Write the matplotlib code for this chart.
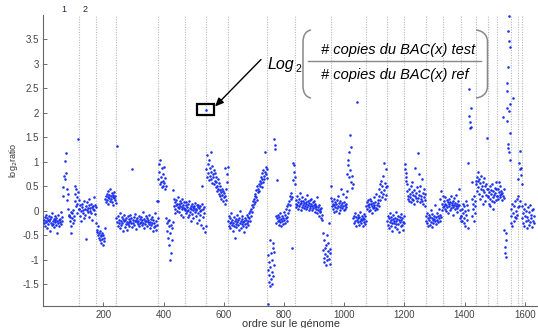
import numpy as np
import matplotlib
matplotlib.use("Agg")
import matplotlib.pyplot as plt
from matplotlib.path import Path
from matplotlib.patches import PathPatch, Rectangle

plt.rcParams['font.family'] = ['Liberation Sans', 'DejaVu Sans']
plt.rcParams['axes.unicode_minus'] = False

# chromosome boundaries (order on genome)
chrom_bounds = [120, 177, 242, 381, 471, 542, 614, 745, 838, 955, 1073, 1143,
                1200, 1271, 1330, 1389, 1438, 1477, 1508, 1555, 1577, 1590]
chrom_labels = ["1", "2"]
chrom_label_pos = [69, 139]

# runs of consecutive BACs: (first order, last order)
run_spans = [
    (1, 64), (65, 86), (86, 104), (104, 120), (120, 177), (177, 206), (206, 242),
    (242, 381), (381, 408), (408, 433), (433, 471), (471, 536), (537, 542),
    (542, 614), (614, 683), (683, 745), (745, 768), (768, 772), (772, 828),
    (828, 838), (838, 928), (928, 955), (955, 1010), (1010, 1030), (1030, 1073),
    (1073, 1115), (1115, 1143), (1143, 1200), (1200, 1271), (1271, 1330),
    (1330, 1389), (1389, 1412), (1412, 1424), (1424, 1438), (1438, 1477),
    (1477, 1508), (1508, 1532), (1532, 1540), (1540, 1552), (1552, 1577),
    (1577, 1590), (1590, 1632),
]

# log2 ratios, run by run
run_values = [
    [-0.18,-0.25,-0.12,-0.30,-0.20,-0.08,-0.22,-0.15,-0.35,-0.19,-0.27,-0.10,-0.21,-0.16,-0.40,-0.24,-0.13,-0.29,-0.05,-0.20,
     -0.26,-0.17,-0.33,-0.11,-0.23,-0.19,-0.28,-0.14,-0.45,-0.21,-0.09,-0.25,-0.18,-0.31,-0.16,-0.22,-0.02,-0.27,-0.20,-0.12],
    [0.30,0.48,0.72,1.02,0.65,0.78,1.18,0.45,0.22,0.35,0.05,-0.10],
    [-0.08,-0.20,-0.12,-0.30,-0.02,-0.45,-0.15,-0.05,-0.25,0.02,-0.10,-0.18],
    [0.20,0.50,0.35,0.45,0.10,0.28,0.15,-0.05,1.46,0.38,0.05,0.22],
    [0.05,-0.10,0.12,0.00,-0.20,0.08,0.15,-0.05,0.02,-0.15,0.20,0.05,-0.08,0.10,-0.57,0.03,0.18,-0.02,0.07,-0.12,
     0.12,0.25,0.00,0.06,-0.05,0.15,0.09,-0.18,0.04,0.11,0.28,0.01,-0.06,0.13,0.08,-0.25],
    [-0.38,-0.42,-0.30,-0.50,-0.45,-0.55,-0.40,-0.60,-0.48,-0.52,-0.65,-0.44,-0.58,-0.70,-0.50,-0.62,-0.55,-0.35],
    [0.25,0.30,0.18,0.35,0.22,0.40,0.28,0.15,0.32,0.26,0.45,0.20,0.30,0.24,0.36,0.19,0.29,0.33,0.12,0.27,0.38,0.22,0.31,0.17],
    [-0.15,1.33,-0.22,-0.30,-0.10,-0.25,-0.18,-0.35,-0.05,-0.20,-0.28,-0.12,-0.24,-0.40,-0.16,-0.21,-0.08,-0.32,-0.19,-0.26,
     -0.14,-0.23,-0.38,-0.11,-0.27,-0.17,-0.22,-0.30,-0.09,-0.20,-0.25,-0.15,-0.33,0.85,-0.18,-0.24,-0.12,-0.28,-0.21,-0.06,
     -0.19,-0.36,-0.23,-0.14,-0.27,-0.20,-0.10,-0.31,-0.17,-0.25,-0.22,-0.13,-0.29,-0.18,-0.02,-0.24,-0.34,-0.16,-0.21,-0.27,
     -0.11,-0.20,-0.30,-0.15,-0.23,-0.19,-0.26,-0.08,-0.35,-0.22,-0.17,-0.28,-0.13,-0.24,-0.40,-0.18,-0.32,-0.25,-0.05,-0.30,
     -0.20,-0.38,-0.28,0.21,-0.15],
    [0.20,0.65,0.95,0.80,1.05,0.55,0.70,0.60,0.88,0.48,0.75,0.62,0.52,0.90,0.58,0.45,0.68,0.50],
    [-0.15,-0.25,-0.40,-0.20,-0.55,-0.30,-0.70,-0.18,-1.00,-0.45,-0.28,-0.85,-0.60,-0.35,-0.22,0.43],
    [0.10,0.25,0.05,0.18,-0.05,0.12,0.22,0.00,0.15,0.08,0.29,-0.02,0.14,0.06,0.20,0.11,-0.08,0.17,0.04,0.24,0.09,0.13,-0.12,0.19,0.07,0.02],
    [0.05,0.12,-0.05,0.18,0.00,0.08,-0.12,0.15,0.03,-0.08,0.20,0.06,-0.02,0.10,-0.20,0.04,0.14,-0.06,0.09,0.01,-0.15,0.11,0.07,-0.03,
     0.16,-0.10,0.05,0.02,-0.25,0.12,0.08,-0.04,0.13,-0.18,0.06,0.00,0.10,-0.08,0.03,-0.28,0.15,0.52,-0.12,0.04,-0.35,-0.05,0.09],
    [-0.43,2.07,-0.30],
    [0.85,1.14,0.70,0.95,0.78,0.63,1.05,0.88,0.72,1.21,0.66,0.80,0.92,0.58,0.75,0.69,0.84,0.55,0.62,0.77,0.48,0.70,0.60,0.52,
     0.40,0.65,0.45,0.35,0.58,0.42,0.30,0.50,0.38,0.25,0.44,0.33,0.20,0.40,0.28,0.36,0.15,0.31,0.88,0.22,0.45,0.60,0.75,0.90],
    [-0.20,-0.30,-0.10,-0.25,-0.35,-0.15,-0.22,-0.05,-0.28,-0.18,-0.40,-0.24,-0.12,-0.31,-0.20,-0.55,-0.26,-0.16,-0.33,-0.08,
     -0.23,-0.29,-0.19,-0.38,-0.14,-0.25,0.00,-0.21,-0.34,-0.17,-0.27,-0.11,-0.23,-0.30,-0.20,-0.43,-0.15,-0.26,-0.18,-0.32,
     -0.09,-0.24,-0.20,-0.28,-0.13],
    [-0.15,-0.05,-0.20,0.00,-0.10,0.05,0.12,-0.02,0.20,0.08,0.25,0.15,0.30,0.18,0.35,0.28,0.42,0.22,0.50,0.38,
     0.45,0.55,0.40,0.62,0.52,0.58,0.70,0.48,0.65,0.78,0.60,0.84,0.72,0.66,1.21,0.80,0.90,0.75,0.68,0.85],
    [-1.90,-0.90,-1.20,-1.45,-1.05,-1.30,-0.60,-1.54,-1.15,-1.38,-0.85,-1.25,-1.48,-1.00,-0.75,-1.32,-0.65,-1.10,-0.83],
    [1.47,1.35,1.26],
    [-0.10,-0.25,-0.15,0.63,-0.20,-0.08,-0.28,-0.18,-0.12,-0.22,-0.05,-0.30,-0.16,-0.20,-0.10,-0.26,-0.14,-0.02,-0.19,-0.24,
     -0.08,-0.15,0.05,-0.12,-0.21,0.10,-0.05,0.15,0.02,0.20,0.30,0.12,0.36,0.25,-0.76,0.29],
    [0.63,0.98,0.80,0.94,0.70,0.55],
    [0.15,0.22,0.08,0.30,0.12,0.18,0.05,0.25,0.10,0.36,0.14,0.20,0.02,0.16,0.28,0.09,0.13,0.21,0.06,0.17,
     0.11,0.24,0.04,0.19,0.15,0.33,0.08,0.12,0.20,0.03,0.16,0.10,0.22,0.07,0.14,0.25,0.01,0.11,0.18,0.06,
     0.13,0.20,-0.02,0.09,0.15,0.04,0.10,0.28,-0.05,0.08,0.02,0.12,-0.10,0.05,-0.02,0.00,-0.15,0.06,-0.08,-0.18],
    [-0.45,-0.80,-0.95,-0.59,-1.05,-0.75,-0.88,-1.10,-0.70,-0.92,-0.50,-1.00,-0.82,-0.65,-0.98,-0.25,-0.78,-1.08,-0.85],
    [0.50,0.27,0.10,0.20,0.05,0.15,-0.02,0.12,0.25,0.08,0.18,0.00,0.14,0.22,0.06,0.10,0.30,-0.05,0.16,0.09,
     0.20,0.03,0.13,0.45,0.07,0.17,0.11,0.35,0.02,0.19,0.12,0.05,0.28,0.08,0.15,0.40],
    [0.75,1.05,0.94,0.69,1.20,0.84,1.55,0.60,1.30,0.46,0.72,0.55],
    [-0.15,-0.25,-0.10,-0.20,-0.05,-0.30,-0.12,-0.18,2.22,-0.22,-0.08,-0.15,-0.28,-0.12,-0.20,-0.02,-0.16,-0.25,-0.10,-0.19,
     -0.30,-0.14,-0.06,-0.22,-0.17,-0.27,-0.11,-0.20],
    [0.10,0.18,0.05,0.22,0.12,0.00,0.15,0.08,0.25,0.03,0.14,0.20,-0.05,0.11,0.17,0.06,0.28,0.09,0.13,0.02,
     0.19,0.07,0.35,0.12,0.04,0.16,0.22,0.10],
    [0.30,0.45,0.22,0.55,0.38,0.62,0.28,0.50,0.72,0.35,0.98,0.42,0.58,0.25,0.48,0.85,0.33,0.52],
    [-0.20,-0.10,-0.28,-0.15,-0.35,-0.05,-0.22,-0.18,-0.30,-0.12,-0.25,-0.40,-0.16,-0.08,-0.24,-0.20,-0.33,-0.14,-0.27,-0.02,
     -0.21,-0.36,-0.17,-0.11,-0.26,-0.19,-0.42,-0.13,-0.23,-0.30,-0.07,-0.18,-0.28,-0.15,-0.22,-0.38,-0.10,-0.25],
    [0.85,0.95,0.62,0.78,0.70,0.55,0.40,0.30,0.25,0.45,0.20,0.35,0.28,0.50,0.18,0.38,0.25,0.60,0.32,0.22,
     0.42,0.15,0.30,0.88,0.27,0.36,0.20,0.48,1.18,0.26,0.40,0.75,0.33,0.18,0.52,0.24,0.30,0.65,0.21,0.37,
     0.14,0.28,0.45,0.10,0.23,0.35],
    [-0.10,-0.20,-0.05,-0.25,-0.15,-0.30,-0.08,-0.18,-0.12,-0.28,0.02,-0.22,-0.14,-0.32,-0.06,-0.19,-0.24,-0.10,-0.16,0.12,
     -0.21,-0.13,-0.27,-0.04,-0.18,-0.11,-0.23,0.05,-0.15,-0.20,-0.09,0.25,-0.12,0.40,0.15,0.02,0.30,0.08],
    [0.10,0.20,0.05,0.15,0.28,0.00,0.12,0.22,0.08,0.18,-0.05,0.14,0.25,0.10,0.02,0.19,0.30,0.07,0.16,0.12,
     -0.08,0.21,0.09,0.13,0.26,0.04,0.17,0.11,0.32,0.06,0.15,-0.02,0.20,0.10,0.45,0.13,0.03,-0.15,-0.20,-0.10],
    [-0.10,0.05,-0.20,0.15,-0.05,-0.25,0.10,-0.15,0.00,-0.30,0.20,-0.08,-0.18,0.12,-0.35,0.02],
    [0.97,1.94,2.48,1.81,1.70,2.11,1.72,0.60],
    [0.25,-0.10,0.15,0.05,-0.20,0.30,0.10,-0.05,0.20,0.62],
    [0.55,0.70,0.40,0.62,0.80,0.48,0.35,0.65,0.58,0.25,0.72,0.45,0.52,0.30,0.60,0.42,0.15,0.68,0.38,0.50,
     0.20,0.56,0.33,0.44,1.48,0.28],
    [0.30,0.45,0.15,0.38,0.25,0.50,0.10,0.35,0.42,0.20,0.55,0.28,0.05,0.40,0.32,0.18,0.47,0.36,0.22,0.60,0.44,0.30],
    [0.30,0.45,0.25,0.38,0.60,0.32,0.28,0.50,0.35,0.40,0.22,0.36,1.92,0.30,0.44,0.27],
    [-0.39,-0.73,-0.86,-0.45,-0.93,-0.60],
    [2.44,2.10,2.61,1.84,1.37,2.94,1.28,3.68,2.04,3.46,1.21,3.97,3.35,2.18,1.60,1.05],
    [-0.25,-0.10,0.05,-0.30,0.15,-0.05,2.31,-0.20,0.10,-0.12,0.20,0.00,-0.15,0.25,-0.08,0.08],
    [0.30,0.65,0.98,0.10,0.85,1.23,0.20,0.74,0.88,0.55],
    [0.10,-0.15,-0.05,-0.25,0.05,-0.30,-0.10,0.15,-0.20,0.00,-0.35,-0.12,0.08,-0.18,-0.28,-0.02,-0.22,0.12,-0.08,-0.15,
     -0.32,0.02,-0.20,0.05,-0.10,-0.25],
]

# highlighted BAC (boxed)
highlight_order = 540
highlight_value = 2.07

x_ticks = [200, 400, 600, 800, 1000, 1200, 1400, 1600]
y_ticks = [-1.5, -1, -0.5, 0, 0.5, 1, 1.5, 2, 2.5, 3, 3.5]

W, H = 538, 328
fig = plt.figure(figsize=(W / 100, H / 100), dpi=100)
ax = fig.add_axes([43.1 / W, 1 - 305.7 / H, (538 - 43.1) / W, (305.7 - 15) / H])

xs, ys = [], []
for (a, b), vals in zip(run_spans, run_values):
    n = len(vals)
    pos = a + (np.arange(n) + 0.5) * (b - a) / n
    xs.extend(pos)
    ys.extend(vals)

for xb in chrom_bounds:
    ax.axvline(xb, color='#b8b8b8', lw=0.8, ls=(0, (1, 1.3)), zorder=1)

ax.scatter(xs, ys, s=3.4, color='#1a2ff0', linewidths=0, zorder=3)

ax.set_xlim(0, 1644)
ax.set_ylim(-1.933, 4.0)
ax.set_xticks(x_ticks)
ax.set_yticks(y_ticks)
ax.set_xticklabels([f"{v:g}" for v in x_ticks])
ax.set_yticklabels([f"{v:g}" for v in y_ticks])
ax.tick_params(direction='in', length=3, width=0.6, colors='#555555',
               labelcolor='#444444', labelsize=7)
ax.tick_params(axis='y', pad=3)
ax.tick_params(axis='x', pad=3)
for s in ['top', 'right']:
    ax.spines[s].set_visible(False)
for s in ['left', 'bottom']:
    ax.spines[s].set_color('#666666')
    ax.spines[s].set_linewidth(0.8)

ax.set_xlabel("ordre sur le génome", fontsize=7.8, color='#333333', labelpad=-0.5)
ax.set_ylabel("log$_2$ratio", fontsize=6.5, color='#333333', labelpad=2)

for lab, p in zip(chrom_labels, chrom_label_pos):
    ax.text(p, 1.003, lab, transform=ax.get_xaxis_transform(), ha='center',
            va='bottom', fontsize=6.5, color='#222244')

# box around the highlighted BAC
ax.add_patch(Rectangle((highlight_order - 28, highlight_value - 0.12), 56, 0.23,
                       fill=False, ec='black', lw=1.6, zorder=4))

def F(px, py):
    return (px / W, 1 - py / H)

# arrow
ax.annotate("", xy=F(215, 106.5), xycoords='figure fraction',
            xytext=F(261, 59.5), textcoords='figure fraction',
            arrowprops=dict(arrowstyle='-|>,head_length=0.5,head_width=0.22',
                            color='black', lw=1.0, shrinkA=0, shrinkB=0))

# formula
fig.text(*F(268, 69), "Log", fontsize=11.5, style='italic', ha='left', va='baseline', color='black')
fig.text(*F(295, 72), "2", fontsize=7.5, ha='left', va='baseline', color='black')
fig.text(*F(398, 54), "# copies du BAC(x) test", fontsize=10.5, style='italic',
         ha='center', va='baseline', color='black')
fig.text(*F(395, 79), "# copies du BAC(x) ref", fontsize=10.5, style='italic',
         ha='center', va='baseline', color='black')
fig.add_artist(plt.Line2D([308 / W, 481 / W], [1 - 61 / H, 1 - 61 / H],
                          color='#888888', lw=1.0, transform=fig.transFigure))

def bracket(x_end, x_side):
    pts = [F(x_end, 30), F(x_side + (x_end - x_side) * 0.3, 31), F(x_side, 36), F(x_side, 42),
           F(x_side, 86), F(x_side, 92), F(x_side + (x_end - x_side) * 0.3, 97), F(x_end, 98)]
    codes = [Path.MOVETO, Path.CURVE4, Path.CURVE4, Path.CURVE4,
             Path.LINETO, Path.CURVE4, Path.CURVE4, Path.CURVE4]
    fig.add_artist(PathPatch(Path(pts, codes), fill=False, ec='#888888', lw=1.1,
                             transform=fig.transFigure))

bracket(311, 303)
bracket(476, 487.5)

fig.savefig("out.png", dpi=100)
